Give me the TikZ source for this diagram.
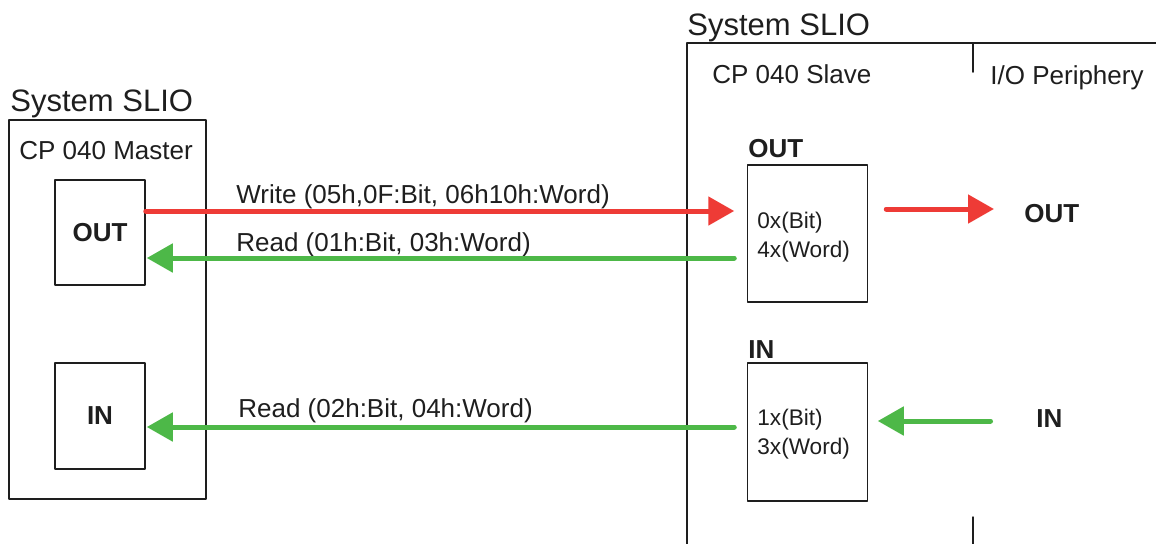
\documentclass[tikz,border=0pt]{standalone}
\usepackage{fontspec}
\setmainfont{Liberation Sans}
\usetikzlibrary{arrows.meta,calc,positioning}
\definecolor{slInk}{HTML}{1E1E1E}
\definecolor{slRed}{HTML}{EE3B36}
\definecolor{slGreen}{HTML}{4DB848}
\tikzset{
 bus/.style={line cap=round,line join=round,text=slInk},
 frame/.style={draw=slInk,line width=.75pt,inner sep=0pt},
 port/.style={frame,font=\fontsize{13}{15}\selectfont\bfseries},
 title/.style={font=\fontsize{15.5}{18}\selectfont,anchor=base west,inner sep=0pt},
 head/.style={font=\fontsize{13}{15}\selectfont,anchor=base west,inner sep=0pt},
 msg/.style={font=\fontsize{13}{15}\selectfont,anchor=base west,inner sep=0pt},
 reg/.style={font=\fontsize{11.3}{14.5}\selectfont,align=left,anchor=west,inner sep=0pt},
 tag/.style={font=\fontsize{13}{15}\selectfont\bfseries,anchor=base west,inner sep=0pt},
 wr/.style={draw=slRed,line width=2.5pt,-{Triangle[length=13pt,width=14pt]}},
 rd/.style={draw=slGreen,line width=2.5pt,-{Triangle[length=13pt,width=14pt]}}
}

\begin{document}
\begin{tikzpicture}[bus,x=.5pt,y=-.5pt]
 \useasboundingbox (0,0) rectangle (1156,543);
 % master side
 \node[frame,minimum width=98.5pt,minimum height=189.5pt] (master) at (107.5,309.5) {};
 \node[title] (mTitle) at (10,111) {System SLIO};
 \node[head] (mHead) at (19,159) {CP 040 Master};
 \node[port,minimum width=45pt,minimum height=52.5pt] (mOut) at (100,232.5) {OUT};
 \node[port,minimum width=45pt,minimum height=53pt] (mIn) at (100,416) {IN};
 % slave side
 \draw[frame] (1160,43) -| (687,547);
 \draw[frame] (973,43) -- (973,72);
 \draw[frame] (973,517) -- (973,547);
 \node[title] (sTitle) at (687,35) {System SLIO};
 \node[head] (sHead) at (712,83) {CP 040 Slave};
 \node[head] (pHead) at (990,84) {I/O Periphery};
 \node[tag] (sOutTag) at (748,157) {OUT};
 \node[tag] (sInTag) at (748,358) {IN};
 \node[frame,minimum width=60pt,minimum height=68.5pt] (sOut) at (807.5,233.5) {};
 \node[frame,minimum width=60pt,minimum height=69pt] (sIn) at (807.5,432) {};
 \node[reg] (sOutReg) at (757,237.5) {0x(Bit)\\4x(Word)};
 \node[reg] (sInReg) at (757,434.5) {1x(Bit)\\3x(Word)};
 \node[tag] (pOut) at (1024,222) {OUT};
 \node[tag] (pIn) at (1036,427) {IN};
 % messages
 \node[msg] (wMsg) at (236,203) {Write (05h,0F:Bit, 06h10h:Word)};
 \node[msg] (rMsg) at (236,251) {Read (01h:Bit, 03h:Word)};
 \node[msg] (iMsg) at (238,417) {Read (02h:Bit, 04h:Word)};
 \draw[wr] (mOut.east |- 0,211) -- ([xshift=-6.25pt]sOut.west |- 0,211);
 \draw[rd] ([xshift=-6.25pt]sOut.west |- 0,258) -- ([xshift=.5pt]mOut.east |- 0,258);
 \draw[rd] ([xshift=-6.25pt]sIn.west |- 0,427) -- ([xshift=.5pt]mIn.east |- 0,427);
 \draw[wr] ([xshift=9pt]sOut.east |- 0,209) -- ([xshift=-15pt]pOut.west |- 0,209);
 \draw[rd] ([xshift=-22.75pt]pIn.west |- 0,421) -- ([xshift=4.75pt]sIn.east |- 0,421);
\end{tikzpicture}
\end{document}
